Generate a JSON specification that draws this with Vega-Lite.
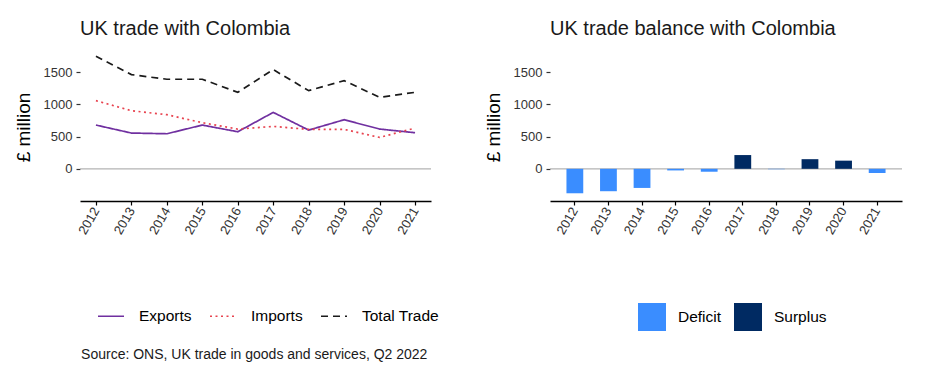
{
  "$schema": "https://vega.github.io/schema/vega-lite/v6.json",
  "background": "white",
  "padding": {"left": 14, "top": 18, "right": 5, "bottom": 10},
  "config": {
    "font": "Liberation Sans",
    "view": {"stroke": null},
    "axis": {"labelFont": "Liberation Sans", "titleFont": "Liberation Sans"},
    "legend": {"labelFont": "Liberation Sans"},
    "title": {"font": "Liberation Sans"}
  },
  "title": {
    "text": "Source: ONS, UK trade in goods and services, Q2 2022",
    "orient": "bottom",
    "anchor": "start",
    "fontSize": 14,
    "fontWeight": "normal",
    "color": "#1a1a1a",
    "offset": 17,
    "dx": 67
  },
  "datasets": {
    "trade": [
      {"year": "2012", "series": "Exports", "value": 680},
      {"year": "2013", "series": "Exports", "value": 556},
      {"year": "2014", "series": "Exports", "value": 545},
      {"year": "2015", "series": "Exports", "value": 680},
      {"year": "2016", "series": "Exports", "value": 576},
      {"year": "2017", "series": "Exports", "value": 877},
      {"year": "2018", "series": "Exports", "value": 602},
      {"year": "2019", "series": "Exports", "value": 763},
      {"year": "2020", "series": "Exports", "value": 618},
      {"year": "2021", "series": "Exports", "value": 561},
      {"year": "2012", "series": "Imports", "value": 1059},
      {"year": "2013", "series": "Imports", "value": 903},
      {"year": "2014", "series": "Imports", "value": 841},
      {"year": "2015", "series": "Imports", "value": 717},
      {"year": "2016", "series": "Imports", "value": 618},
      {"year": "2017", "series": "Imports", "value": 659},
      {"year": "2018", "series": "Imports", "value": 613},
      {"year": "2019", "series": "Imports", "value": 613},
      {"year": "2020", "series": "Imports", "value": 488},
      {"year": "2021", "series": "Imports", "value": 633},
      {"year": "2012", "series": "Total Trade", "value": 1750},
      {"year": "2013", "series": "Total Trade", "value": 1464},
      {"year": "2014", "series": "Total Trade", "value": 1392},
      {"year": "2015", "series": "Total Trade", "value": 1392},
      {"year": "2016", "series": "Total Trade", "value": 1189},
      {"year": "2017", "series": "Total Trade", "value": 1542},
      {"year": "2018", "series": "Total Trade", "value": 1215},
      {"year": "2019", "series": "Total Trade", "value": 1371},
      {"year": "2020", "series": "Total Trade", "value": 1111},
      {"year": "2021", "series": "Total Trade", "value": 1189}
    ],
    "balance": [
      {"year": "2012", "balance": -380, "type": "Deficit"},
      {"year": "2013", "balance": -348, "type": "Deficit"},
      {"year": "2014", "balance": -297, "type": "Deficit"},
      {"year": "2015", "balance": -25, "type": "Deficit"},
      {"year": "2016", "balance": -45, "type": "Deficit"},
      {"year": "2017", "balance": 214, "type": "Surplus"},
      {"year": "2018", "balance": -6, "type": "Deficit"},
      {"year": "2019", "balance": 150, "type": "Surplus"},
      {"year": "2020", "balance": 127, "type": "Surplus"},
      {"year": "2021", "balance": -65, "type": "Deficit"}
    ],
    "zero": [{"v": 0}]
  },
  "spacing": 45,
  "resolve": {
    "scale": {"color": "independent", "x": "independent", "y": "independent", "strokeDash": "independent"},
    "legend": {"color": "independent", "strokeDash": "independent"}
  },
  "hconcat": [
    {
      "width": 351,
      "height": 148,
      "title": {"text": "UK trade with Colombia", "anchor": "start", "frame": "group", "fontSize": 20, "fontWeight": "normal", "color": "#1a1a1a", "offset": 14},
      "layer": [
        {
          "data": {"name": "zero"},
          "mark": {"type": "rule", "color": "#b3b3b3", "strokeWidth": 1.2},
          "encoding": {"y": {"field": "v", "type": "quantitative"}}
        },
        {
          "data": {"name": "trade"},
          "mark": {"type": "line", "strokeWidth": 1.7},
          "encoding": {
            "x": {"field": "year", "type": "ordinal", "scale": {"type": "point", "padding": 0.45},
              "axis": {"title": null, "labelAngle": -60, "labelFontSize": 13, "labelColor": "#333333", "domainColor": "#000000", "domainWidth": 1.5, "tickColor": "#000000", "tickSize": 4, "tickWidth": 1.2, "labelPadding": 3}},
            "y": {"field": "value", "type": "quantitative", "scale": {"domain": [-500, 1800], "nice": false},
              "axis": {"title": "£ million", "format": "d", "titleFontSize": 19, "titleFontWeight": "normal", "titleColor": "#000000", "titlePadding": 10, "values": [0, 500, 1000, 1500], "domain": false, "grid": false, "tickSize": 4, "tickColor": "#333333", "tickWidth": 1.2, "labelFontSize": 13, "labelColor": "#333333", "labelPadding": 4}},
            "color": {"field": "series", "type": "nominal",
              "scale": {"domain": ["Exports", "Imports", "Total Trade"], "range": ["#7030A0", "#E8434F", "#1a1a1a"]},
              "legend": {"title": null, "orient": "none", "legendX": 17, "legendY": 249, "direction": "horizontal", "symbolType": "stroke", "symbolSize": 676, "symbolStrokeWidth": 1.7, "labelFontSize": 15.5, "labelColor": "#000000", "labelOffset": 14, "columnPadding": 14}},
            "strokeDash": {"field": "series", "type": "nominal",
              "scale": {"domain": ["Exports", "Imports", "Total Trade"], "range": [[1, 0], [2, 3.5], [7, 5]]},
              "legend": {"title": null, "orient": "none", "legendX": 17, "legendY": 249, "direction": "horizontal", "symbolType": "stroke", "symbolSize": 676, "symbolStrokeWidth": 1.7, "labelFontSize": 15.5, "labelColor": "#000000", "labelOffset": 14, "columnPadding": 14}}
          }
        }
      ]
    },
    {
      "width": 352,
      "height": 148,
      "title": {"text": "UK trade balance with Colombia", "anchor": "start", "frame": "group", "fontSize": 20, "fontWeight": "normal", "color": "#1a1a1a", "offset": 14},
      "layer": [
        {
          "data": {"name": "zero"},
          "mark": {"type": "rule", "color": "#b3b3b3", "strokeWidth": 1.2},
          "encoding": {"y": {"field": "v", "type": "quantitative"}}
        },
        {
          "data": {"name": "balance"},
          "mark": {"type": "bar"},
          "encoding": {
            "x": {"field": "year", "type": "ordinal", "scale": {"type": "band", "paddingInner": 0.5, "paddingOuter": 0.49},
              "axis": {"title": null, "labelAngle": -60, "labelFontSize": 13, "labelColor": "#333333", "domainColor": "#000000", "domainWidth": 1.5, "tickColor": "#000000", "tickSize": 4, "tickWidth": 1.2, "labelPadding": 3}},
            "y": {"field": "balance", "type": "quantitative", "scale": {"domain": [-500, 1800], "nice": false},
              "axis": {"title": "£ million", "format": "d", "titleFontSize": 19, "titleFontWeight": "normal", "titleColor": "#000000", "titlePadding": 10, "values": [0, 500, 1000, 1500], "domain": false, "grid": false, "tickSize": 4, "tickColor": "#333333", "tickWidth": 1.2, "labelFontSize": 13, "labelColor": "#333333", "labelPadding": 4}},
            "color": {"field": "type", "type": "nominal",
              "scale": {"domain": ["Deficit", "Surplus"], "range": ["#3A8DFF", "#002A62"]},
              "legend": {"title": null, "orient": "none", "legendX": 88, "legendY": 250, "direction": "horizontal", "symbolType": "square", "symbolSize": 784, "symbolStrokeWidth": 0, "labelFontSize": 15.5, "labelColor": "#000000", "labelOffset": 12, "columnPadding": 12}}
          }
        }
      ]
    }
  ]
}
